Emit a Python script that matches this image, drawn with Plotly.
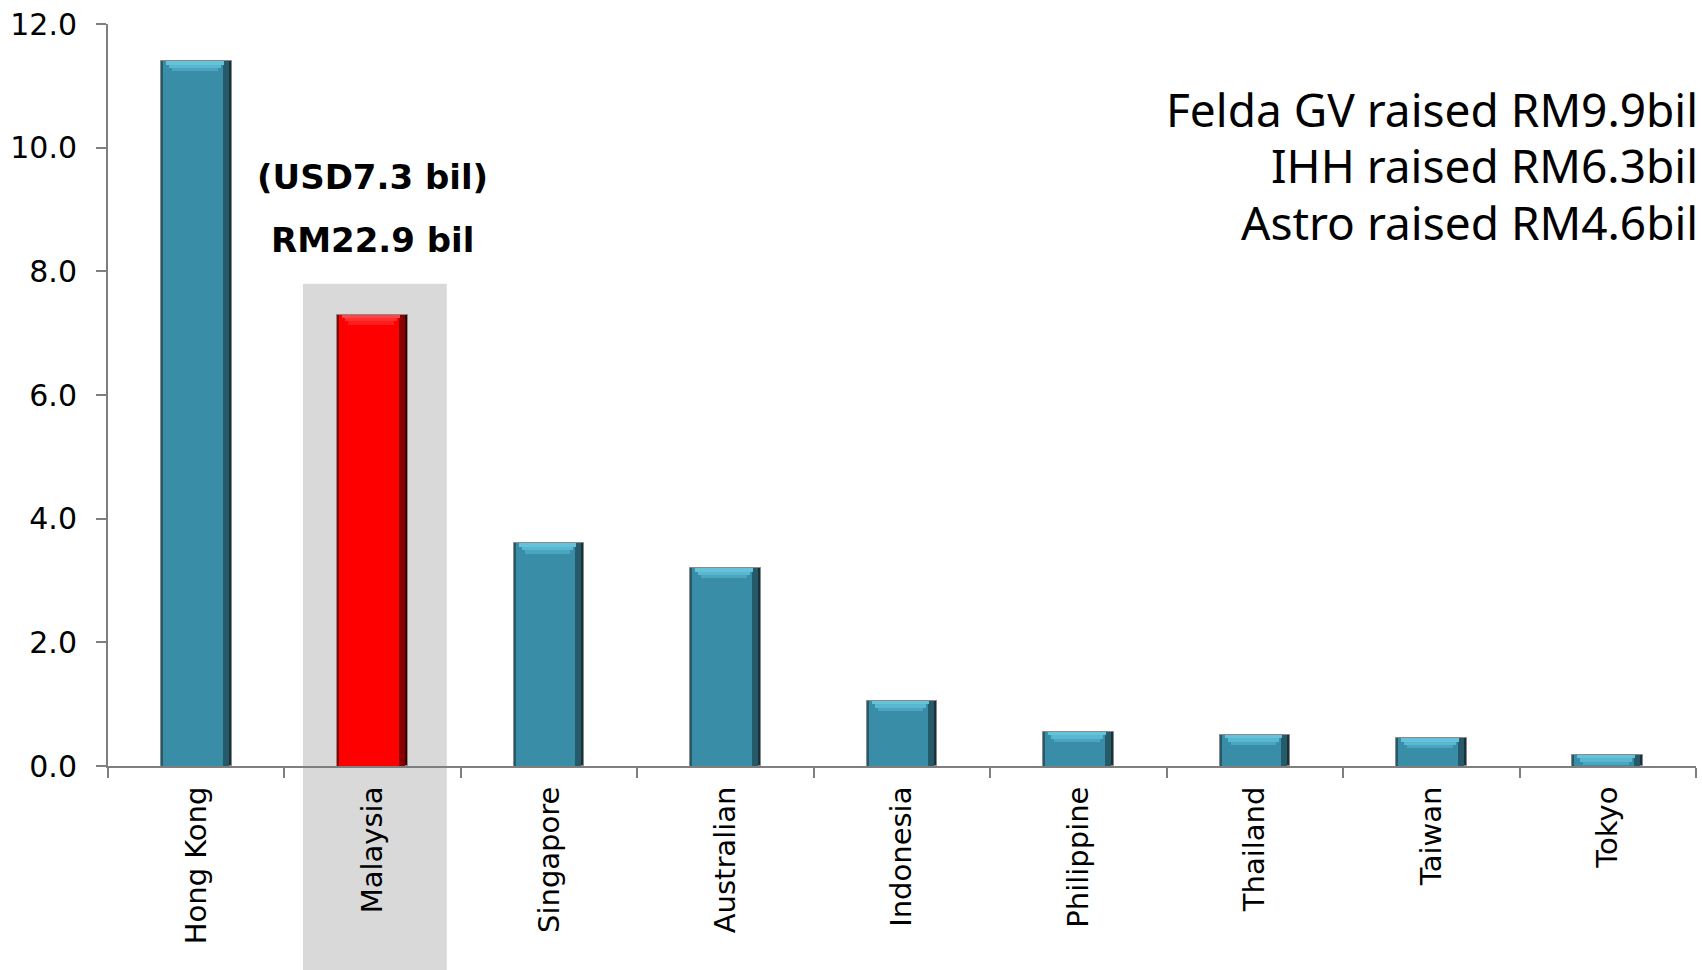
import plotly.graph_objects as go

# IPO funds raised by market (USD billion)
markets = ["Hong Kong", "Malaysia", "Singapore", "Australian", "Indonesia",
           "Philippine", "Thailand", "Taiwan", "Tokyo"]
raised_usd_bil = [11.4, 7.3, 3.6, 3.2, 1.05, 0.55, 0.50, 0.45, 0.18]

highlight_market = "Malaysia"
highlight_labels = ["(USD7.3 bil)", "RM22.9 bil"]
side_notes = ["Felda GV raised RM9.9bil", "IHH raised RM6.3bil", "Astro raised RM4.6bil"]

y_ticks = [0, 2, 4, 6, 8, 10, 12]

# bar styling (teal for peers, red for the highlighted market)
BAR_W = 0.40
TEAL = {"edge": "#16323a", "side": "#26596a", "face": "#3a8da6",
        "bevel": ["#4aa6c0", "#58b8d1", "#64c3da"]}
RED = {"edge": "#3a0000", "side": "#8a0000", "face": "#ff0000",
       "bevel": ["#ff1c1c", "#ff3030", "#ff4545"]}
STEP_H = 0.055          # height of one bevel step (data units)


def colors(key, i=None):
    out = []
    for m in markets:
        c = (RED if m == highlight_market else TEAL)[key]
        out.append(c[i] if i is not None else c)
    return out


fig = go.Figure()

n = len(markets)
px_cat = 1 / 176.4  # one pixel in category units


def bar_layer(y, color, inset_l, inset_r, base=None, line=None):
    fig.add_trace(go.Bar(
        x=markets, y=y, base=base,
        width=[BAR_W - (inset_l + inset_r) * px_cat] * n,
        offset=[-BAR_W / 2 + inset_l * px_cat] * n,
        marker=dict(color=color, line=line or dict(width=0)),
        hoverinfo="skip", showlegend=False))


# dark outer body (right-side shadow), mid-tone side, main face
bar_layer(raised_usd_bil, colors("edge"), 0, 0, line=dict(color="#8a8a8a", width=1))
bar_layer(raised_usd_bil, colors("side"), 0, 3)
bar_layer(raised_usd_bil, colors("face"), 2, 9)

# top bevel: stacked steps that narrow downward
for k in range(3):
    depth = 3 - k                       # step 0 is the deepest / narrowest
    top_off = [STEP_H * (depth - 1) for _ in raised_usd_bil]
    ys, bases = [], []
    for v, off in zip(raised_usd_bil, top_off):
        b = max(v - off - STEP_H, 0)
        ys.append(max(v - off - b, 0))
        bases.append(b)
    inset = 2 + 3 * depth
    bar_layer(ys, colors("bevel", k), inset, inset + 3, base=bases)

# grey band behind the highlighted market, running down past its label
hi = markets.index(highlight_market)
x_lo, x_hi = -0.5, n - 0.5
band_top = 7.8
fig.add_shape(
    type="rect", xref="paper", yref="paper", layer="below",
    x0=(hi - 0.395 - x_lo) / (x_hi - x_lo), x1=(hi + 0.42 - x_lo) / (x_hi - x_lo),
    y0=-0.3, y1=band_top / y_ticks[-1],
    fillcolor="#d9d9d9", line=dict(width=0))

bold_font = dict(family="DejaVu Sans", size=34, color="black")
for text, yv in zip(highlight_labels, [9.52, 8.50]):
    fig.add_annotation(x=highlight_market, y=yv, xref="x", yref="y",
                       text=f"<b>{text}</b>", showarrow=False,
                       xanchor="center", yanchor="middle", font=bold_font)

note_font = dict(family="Noto Sans", size=46, color="black")
for text, yp in zip(side_notes, [0.886, 0.810, 0.733]):
    fig.add_annotation(x=1, y=yp, xref="paper", yref="paper", xshift=4,
                       text=text, showarrow=False, xanchor="right",
                       yanchor="middle", align="right", font=note_font)

fig.update_layout(
    width=1702, height=970,
    margin=dict(l=108, r=6, t=21, b=204),
    paper_bgcolor="white", plot_bgcolor="white",
    barmode="overlay", bargap=0,
    font=dict(family="DejaVu Sans", size=29, color="black"),
    xaxis=dict(type="category", range=[x_lo, x_hi], showline=True,
               linecolor="#7f7f7f", linewidth=2, ticks="outside",
               tickson="boundaries", ticklen=10, tickwidth=2, tickcolor="#7f7f7f",
               tickangle=-90, showgrid=False, zeroline=False, ticklabelstandoff=7,
               tickfont=dict(family="DejaVu Sans", size=29)),
    yaxis=dict(range=[0, 12], tickvals=y_ticks, tickformat=".1f",
               showline=True, linecolor="#7f7f7f", linewidth=2,
               ticks="outside", ticklen=10, tickwidth=2, tickcolor="#7f7f7f",
               showgrid=False, zeroline=False, ticklabelstandoff=13,
               tickfont=dict(family="DejaVu Sans", size=30)),
)

fig.write_html("out.html")
